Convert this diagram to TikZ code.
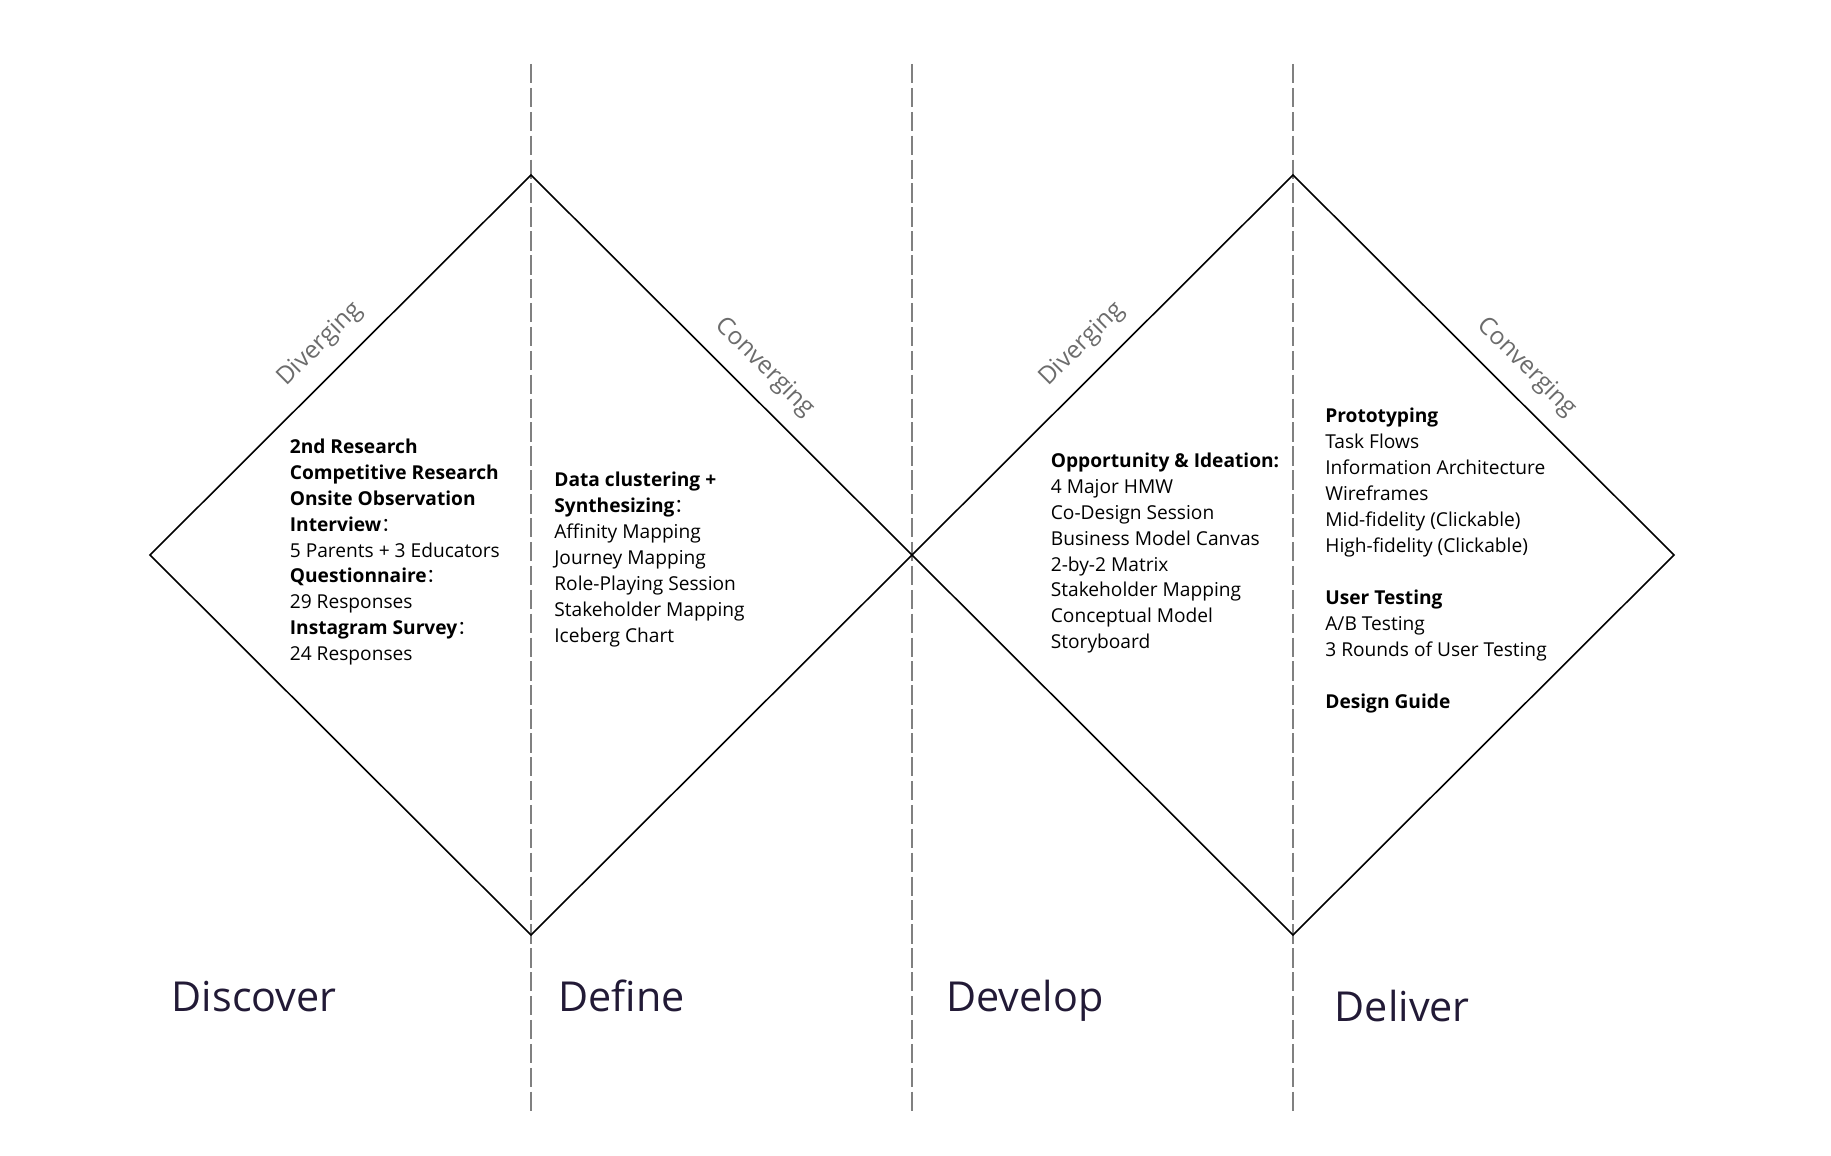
\documentclass[tikz,border=0pt]{standalone}
\usepackage{fontspec}
\setmainfont{Open Sans}
\newfontfamily\cjkfont{Noto Sans CJK SC}
\usetikzlibrary{positioning, calc}
\definecolor{dividergray}{RGB}{128,128,128}
\definecolor{modegray}{RGB}{108,108,108}
\definecolor{titleink}{RGB}{34,26,54}
\newcommand{\wcolon}{{\mdseries\cjkfont ：}}

\begin{document}
\begin{tikzpicture}[
    diamondline/.style={draw=black, line width=0.9pt, line join=miter},
    divider/.style={draw=dividergray, line width=1.1pt, dash pattern=on 11pt off 2.6pt},
    modelabel/.style={sloped, above=0.33cm, inner sep=0pt, font=\fontsize{13.9}{16}\selectfont, text=modegray},
    methods/.style={anchor=north west, inner sep=0pt, align=left, font=\fontsize{10.9}{14.75}\selectfont},
    phasetitle/.style={anchor=base west, inner sep=0pt, font=\fontsize{23.5}{28}\selectfont, text=titleink}
]
    \useasboundingbox (0,0) rectangle (36.62,23.12);

    % Corners of the double diamond
    \coordinate (D1L) at (3.00,12.02);
    \coordinate (D1T) at (10.62,19.62);
    \coordinate (D1B) at (10.62,4.42);
    \coordinate (MID) at (18.24,12.02);
    \coordinate (D2T) at (25.86,19.62);
    \coordinate (D2B) at (25.86,4.42);
    \coordinate (D2R) at (33.48,12.02);

    % Phase dividers
    \foreach \x/\n in {10.62/A, 18.24/B, 25.86/C} {
        \coordinate (top\n) at (\x,21.84);
        \coordinate (bot\n) at (\x,0.86);
        \draw[divider] (top\n) -- (bot\n);
    }

    % Diamonds
    \draw[diamondline] (D1L) -- (D1T) -- (MID) -- (D1B) -- cycle;
    \draw[diamondline] (MID) -- (D2T) -- (D2R) -- (D2B) -- cycle;

    % Diverging / converging
    \path (D1L) -- (D1T) node[modelabel, pos=0.5] (div1) {Diverging};
    \path (D1T) -- (MID) node[modelabel, pos=0.56] (con1) {Converging};
    \path (MID) -- (D2T) node[modelabel, pos=0.5] (div2) {Diverging};
    \path (D2T) -- (D2R) node[modelabel, pos=0.56] (con2) {Converging};

    % Methods in each phase
    \node[methods] (discoverNotes) at (5.79,14.35)
        {\textbf{2nd Research}\\\textbf{Competitive Research}\\\textbf{Onsite Observation}\\
         \textbf{Interview\wcolon}\\5 Parents + 3 Educators\\\textbf{Questionnaire\wcolon}\\
         29 Responses\\\textbf{Instagram Survey\wcolon}\\24 Responses};
    \node[methods] (defineNotes) at (11.08,13.68)
        {\textbf{Data clustering +}\\\textbf{Synthesizing\wcolon}\\Affinity Mapping\\Journey Mapping\\
         Role-Playing Session\\Stakeholder Mapping\\Iceberg Chart};
    \node[methods] (developNotes) at (21.01,14.07)
        {\textbf{Opportunity \& Ideation:}\\4 Major HMW\\Co-Design Session\\Business Model Canvas\\
         2-by-2 Matrix\\Stakeholder Mapping\\Conceptual Model\\Storyboard};
    \node[methods] (deliverNotes) at (26.50,14.96)
        {\textbf{Prototyping}\\Task Flows\\Information Architecture\\Wireframes\\
         Mid-fidelity (Clickable)\\High-fidelity (Clickable)\\[14.75pt]
         \textbf{User Testing}\\A/B Testing\\3 Rounds of User Testing\\[14.75pt]
         \textbf{Design Guide}};

    % Phase names
    \node[phasetitle] (discover) at (3.43,2.88) {Discover};
    \node[phasetitle] (define)   at (11.16,2.88) {Define};
    \node[phasetitle] (develop)  at (18.92,2.88) {Develop};
    \node[phasetitle] (deliver)  at (26.69,2.68) {Deliver};
\end{tikzpicture}
\end{document}
